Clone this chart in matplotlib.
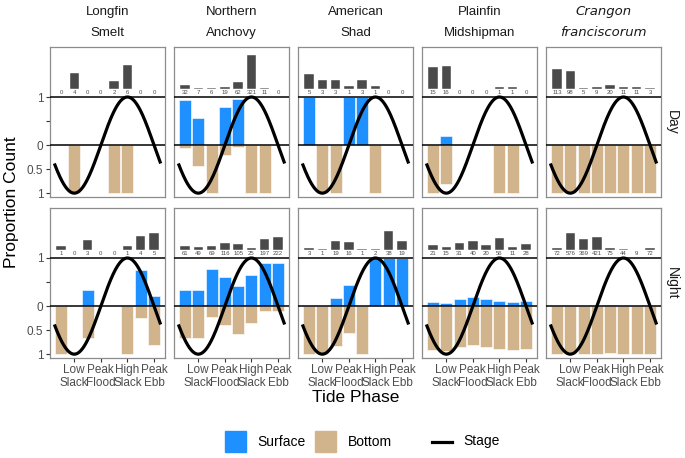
import numpy as np
import matplotlib
matplotlib.use("Agg")
from matplotlib import pyplot as plt
from matplotlib.patches import Rectangle
from matplotlib.lines import Line2D

plt.rcParams['font.family'] = ['Liberation Sans', 'DejaVu Sans']

# facet labels
species_line1 = ["Longfin", "Northern", "American", "Plainfin", "Crangon"]
species_line2 = ["Smelt", "Anchovy", "Shad", "Midshipman", "franciscorum"]
periods = ["Day", "Night"]

# tide phases (8 bins), labelled every second bin
phase_pos = np.arange(1, 9)
phase_ticks = [2, 4, 6, 8]
phase_labels = ["Low\nSlack", "Peak\nFlood", "High\nSlack", "Peak\nEbb"]

# catch counts per phase
day_counts = [
    [0, 4, 0, 0, 2, 6, 0, 0],
    [32, 7, 6, 19, 62, 321, 11, 0],
    [5, 3, 3, 1, 3, 1, 0, 0],
    [15, 16, 0, 0, 0, 1, 1, 0],
    [113, 98, 5, 9, 20, 11, 11, 3],
]
night_counts = [
    [1, 0, 3, 0, 0, 1, 4, 5],
    [61, 49, 69, 116, 105, 25, 197, 222],
    [3, 1, 19, 16, 1, 2, 38, 19],
    [21, 15, 31, 40, 20, 56, 11, 28],
    [72, 576, 369, 421, 75, 44, 9, 72],
]

# proportion caught in surface / bottom nets
day_surface = [
    [0, 0, 0, 0, 0, 0, 0, 0],
    [0.94, 0.57, 0, 0.79, 0.95, 0, 0, 0],
    [1, 0, 0, 1, 1, 0, 0, 0],
    [0, 0.19, 0, 0, 0, 0, 0, 0],
    [0, 0, 0, 0, 0, 0, 0, 0],
]
day_bottom = [
    [0, 1, 0, 0, 1, 1, 0, 0],
    [0.06, 0.43, 1, 0.21, 0.05, 1, 1, 0],
    [0, 1, 1, 0, 0, 1, 0, 0],
    [1, 0.81, 0, 0, 0, 1, 1, 0],
    [1, 1, 1, 1, 1, 1, 1, 1],
]
night_surface = [
    [0, 0, 0.33, 0, 0, 0, 0.75, 0.2],
    [0.33, 0.33, 0.78, 0.61, 0.41, 0.64, 0.89, 0.89],
    [0, 0, 0.16, 0.44, 0, 1, 1, 1],
    [0.09, 0.07, 0.15, 0.19, 0.14, 0.1, 0.08, 0.1],
    [0, 0, 0, 0, 0.03, 0, 0, 0],
]
night_bottom = [
    [1, 0, 0.67, 0, 0, 1, 0.25, 0.8],
    [0.67, 0.67, 0.22, 0.39, 0.59, 0.36, 0.11, 0.11],
    [1, 1, 0.84, 0.56, 1, 0, 0, 0],
    [0.91, 0.93, 0.85, 0.81, 0.86, 0.9, 0.92, 0.9],
    [1, 1, 1, 1, 0.97, 1, 1, 1],
]

SURFACE = '#1E90FF'
BOTTOM = '#D2B48C'
COUNTBAR = '#4a4a4a'
GREY = '#4d4d4d'

W, H = 685, 458
fig = plt.figure(figsize=(W / 100, H / 100), dpi=100)

# overlay in pixel coords for labels / legend
ov = fig.add_axes([0, 0, 1, 1])
ov.set_xlim(0, W)
ov.set_ylim(H, 0)
ov.axis('off')


def px_axes(x0, y0, x1, y1):
    return fig.add_axes([x0 / W, 1 - y1 / H, (x1 - x0) / W, (y1 - y0) / H])


lefts = [49.7 + 124 * i for i in range(5)]
pw = 115.6
rows = [(47, 197), (208, 358)]

stage_x = np.linspace(0.5, 8.5, 300)
stage_y = -np.cos(2 * np.pi * (stage_x - 2) / 8)

for r, (counts, surf, bott) in enumerate([(day_counts, day_surface, day_bottom),
                                           (night_counts, night_surface, night_bottom)]):
    y0, y1 = rows[r]
    for c in range(5):
        ax = px_axes(lefts[c], y0, lefts[c] + pw, y1)
        cnt = np.array(counts[c], dtype=float)
        prop = cnt / cnt.sum()
        ax.bar(phase_pos, surf[c], width=0.9, color=SURFACE, edgecolor='white', linewidth=0.4, zorder=2)
        ax.bar(phase_pos, -np.array(bott[c]), width=0.9, color=BOTTOM, edgecolor='white', linewidth=0.4, zorder=2)
        ax.bar(phase_pos, prop, bottom=1.17, width=0.7, color=COUNTBAR, edgecolor='white', linewidth=0.3, zorder=2)
        for xp, n in zip(phase_pos, counts[c]):
            ax.text(xp, 1.1, str(n), ha='center', va='center', fontsize=4.3, color=GREY, zorder=3)
        ax.axhline(0, color='black', lw=1.1, zorder=3)
        ax.axhline(1, color='black', lw=1.1, zorder=3)
        ax.plot(stage_x, stage_y, color='black', lw=2.3, zorder=4, solid_capstyle='butt')
        ax.set_xlim(0.15, 8.85)
        ax.set_ylim(-1.08, 2.04)
        for sp in ax.spines.values():
            sp.set_color('#8c8c8c')
            sp.set_linewidth(0.9)
        if c == 0:
            ax.set_yticks([1, 0.5, 0, -0.5, -1])
            ax.set_yticklabels(["1", "", "0", "0.5", "1"])
            ax.tick_params(axis='y', length=3, color='#333333', labelsize=8.5, labelcolor=GREY, pad=1.5)
        else:
            ax.set_yticks([])
        if r == 1:
            ax.set_xticks(phase_ticks)
            ax.set_xticklabels(phase_labels, linespacing=1.05)
            ax.tick_params(axis='x', length=3, color='#333333', labelsize=8.5, labelcolor=GREY, pad=1.5)
        else:
            ax.set_xticks([])

# facet strips
for c in range(5):
    cx = lefts[c] + pw / 2
    if c == 4:
        ov.text(cx, 12, species_line1[c], ha='center', va='center', fontsize=9.5,
                style='italic', family='DejaVu Sans', color='#1a1a1a')
        ov.text(cx, 33, species_line2[c], ha='center', va='center', fontsize=9.5,
                style='italic', family='DejaVu Sans', color='#1a1a1a')
    else:
        ov.text(cx, 12, species_line1[c], ha='center', va='center', fontsize=9.5, color='#1a1a1a')
        ov.text(cx, 33, species_line2[c], ha='center', va='center', fontsize=9.5, color='#1a1a1a')

for r in range(2):
    ov.text(672, (rows[r][0] + rows[r][1]) / 2, periods[r], ha='center', va='center',
            rotation=-90, fontsize=10, color='#1a1a1a')

ov.text(12, 202, "Proportion Count", ha='center', va='center', rotation=90, fontsize=12.5)
ov.text(355.5, 398, "Tide Phase", ha='center', va='center', fontsize=12.5)

# legend
ov.add_patch(Rectangle((225, 431), 21, 21, color=SURFACE))
ov.text(257, 441.5, "Surface", ha='left', va='center', fontsize=10)
ov.add_patch(Rectangle((315, 431), 21, 21, color=BOTTOM))
ov.text(348, 441.5, "Bottom", ha='left', va='center', fontsize=10)
ov.add_line(Line2D([432, 452], [441.5, 441.5], color='black', lw=2.3))
ov.text(463, 441.5, "Stage", ha='left', va='center', fontsize=10)

fig.savefig("out.png", dpi=100)
